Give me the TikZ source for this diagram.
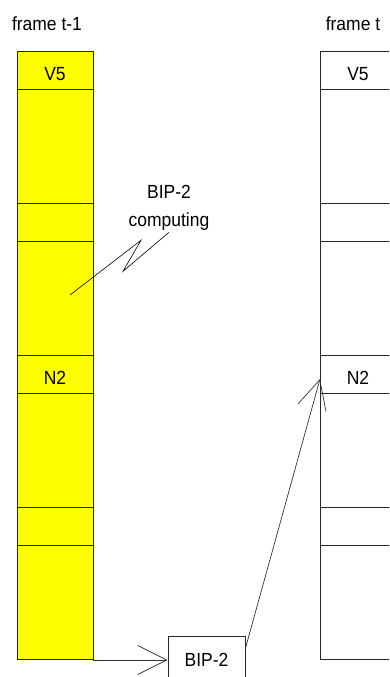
\documentclass[tikz,border=0pt]{standalone}
\usepackage{fontspec}
\setmainfont[FakeStretch=0.92]{Liberation Sans}
\usetikzlibrary{positioning,arrows.meta}

\definecolor{cellyellow}{RGB}{255,255,0}
\tikzset{
  frame cell/.style={draw=black!85, line width=1pt, minimum width=76pt,
    inner sep=0pt, outer sep=0pt, text height=19pt, text depth=0pt},
  short cell/.style={frame cell, minimum height=38pt},
  tall cell/.style={frame cell, minimum height=114pt},
  prev/.style={fill=cellyellow},
  barb/.style={-{Straight Barb[length=29pt,width=29pt]}, line width=0.7pt, draw=black!80},
  lbl/.style={font=\fontsize{19}{22}\selectfont}
}

\begin{document}
\begin{tikzpicture}[x=1pt, y=1pt, every node/.style={lbl}]
  \useasboundingbox (0,0) rectangle (389,677);
  \clip (0,0) rectangle (389,677);

  % titles over the two frames
  \node (titlea) at (47,653) {frame t-1};
  \node (titleb) at (353,653) {frame t};

  % frame t-1, yellow column
  \node[short cell, prev, anchor=north west] (a1) at (17,625) {V5};
  \node[tall cell, prev, below=0pt of a1] (a2) {};
  \node[short cell, prev, below=0pt of a2] (a3) {};
  \node[tall cell, prev, below=0pt of a3] (a4) {};
  \node[short cell, prev, below=0pt of a4] (a5) {N2};
  \node[tall cell, prev, below=0pt of a5] (a6) {};
  \node[short cell, prev, below=0pt of a6] (a7) {};
  \node[tall cell, prev, below=0pt of a7] (a8) {};

  % frame t, cut off on the right
  \node[short cell, anchor=north west] (b1) at (320,625) {V5};
  \node[tall cell, below=0pt of b1] (b2) {};
  \node[short cell, below=0pt of b2] (b3) {};
  \node[tall cell, below=0pt of b3] (b4) {};
  \node[short cell, below=0pt of b4] (b5) {N2};
  \node[tall cell, below=0pt of b5] (b6) {};
  \node[short cell, below=0pt of b6] (b7) {};
  \node[tall cell, below=0pt of b7] (b8) {};

  % computed parity byte
  \node[draw=black!85, line width=1pt, minimum width=77pt, minimum height=46pt,
        inner sep=0pt] (bip) at (206.5,17) {BIP-2};

  % note with zigzag pointer into frame t-1
  \node[align=center, inner sep=2pt] (note) at (169,469.5) {BIP-2\\[6pt]computing};
  \coordinate (hit) at (70,382);
  \draw[line width=0.6pt] (note.south) -- ++(-46,-39) -- ++(18,31) -- (hit);

  % result carried into frame t
  \draw[barb] (a8.south east) -- (bip.west);
  \draw[barb] (bip.17) -- (b5.186);
\end{tikzpicture}
\end{document}
